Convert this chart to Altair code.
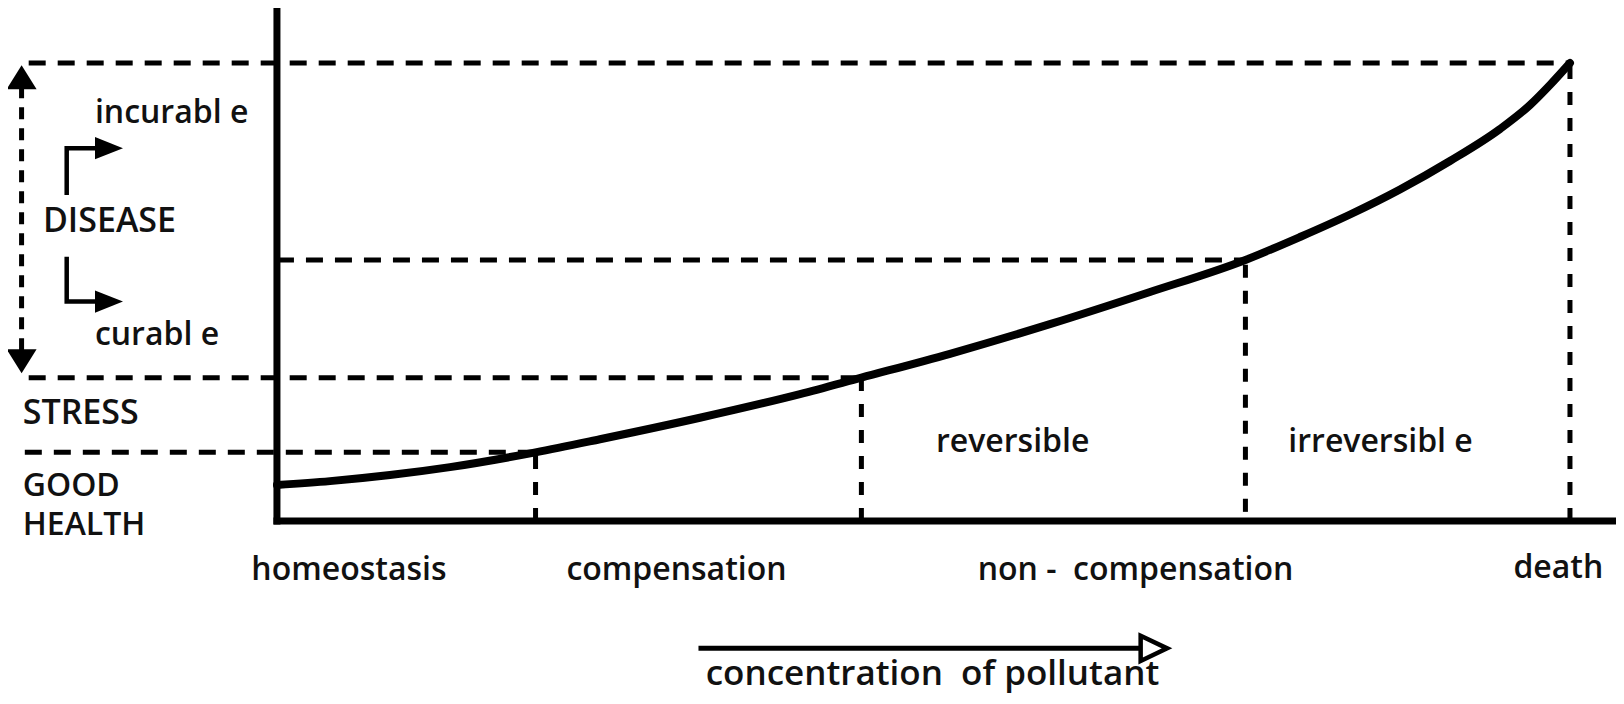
import altair as alt
import pandas as pd

# ---------------- data (concentration units: 0 = no pollutant, 100 = death;
#                  effect units: 0 = baseline, 100 = death) ----------------
curve_conc = [0, 4.10, 8.74, 13.38, 20.0, 24.98, 32.71, 40.45, 45.2, 52.05, 59.78,
              67.52, 74.9, 79.12, 82.99, 86.85, 90.72, 94.59, 96.91, 98.45, 100]
curve_effect = [7.86, 8.71, 10.04, 11.77, 15.0, 17.86, 22.55, 27.71, 31.3, 36.51, 42.97,
                50.0, 57.0, 62.01, 66.92, 72.38, 78.60, 85.59, 90.83, 95.20, 100]

# stage boundaries on the concentration axis and the matching effect levels
stage_ends = [20.0, 45.2, 74.9, 100.0]
level_tops = [15.0, 31.3, 57.0, 100.0]
level_line_start = [-19.5, -19.2, 0.0, -19.2]
stage_line_bottom = [0.0, 0.0, 2.0, 0.0]

# stage names under the axis
stage_labels = ["homeostasis", "compensation", "non -\u00a0 compensation", "death"]
stage_label_x = [5.57, 30.9, 66.4, 99.1]
stage_label_y = [-10.6, -10.6, -10.6, -10.2]

# non-compensation sub-stages
sub_labels = ["reversible", "irreversibl e"]
sub_label_x = [56.9, 85.35]
sub_label_y = [17.2, 17.2]

# health states on the left (lower case / capitals)
lower_labels = ["incurabl e", "curabl e"]
lower_label_x = [-14.08, -14.08]
lower_label_y = [89.1, 40.6]
caps_labels = ["DISEASE", "STRESS"]
caps_label_x = [-18.1, -19.66]
caps_label_y = [65.35, 23.3]
health_label = ["GOOD\nHEALTH"]
health_label_x = [-19.66]
health_label_y = [7.6]

# concentration arrow + title
conc_title = ["concentration \u00a0of pollutant"]
conc_title_x = [50.7]
conc_title_y = [-35.9]
conc_arrow_from = [32.6]
conc_arrow_to = [66.9]
conc_arrow_y = [-27.8]
conc_head_x = [67.82]

# disease range double arrow
disease_arrow_x = [-19.75]
disease_arrow_top = [94.8]
disease_arrow_bottom = [37.3]
disease_head_y = [96.9, 34.9]

# incurable / curable bracket arrows
bracket_id = ["up", "up", "up", "down", "down", "down"]
bracket_x = [-16.26, -16.26, -13.5, -16.26, -16.26, -13.5]
bracket_y = [71.2, 81.4, 81.4, 57.7, 47.9, 47.9]
bracket_head_x = [-12.99, -12.99]
bracket_head_y = [81.4, 47.9]

X_DOMAIN = [-20.80, 103.56]
Y_DOMAIN = [-38.2, 112.0]
FONT = "Open Sans"
FS = 32
FS_CAPS = 34
FS_TITLE = 35

# ---------------- encodings ----------------
xs = alt.Scale(domain=X_DOMAIN, nice=False, zero=False)
ys = alt.Scale(domain=Y_DOMAIN, nice=False, zero=False)


def X(f):
    return alt.X(f"{f}:Q", scale=xs, axis=None)


def Y(f):
    return alt.Y(f"{f}:Q", scale=ys, axis=None)


# curve
curve_df = pd.DataFrame({"x": curve_conc, "y": curve_effect})
curve = alt.Chart(curve_df).mark_line(color="black", strokeWidth=8, interpolate="monotone",
                                      strokeCap="round").encode(x=X("x"), y=Y("y"))

# axes
axes_df = pd.DataFrame({
    "x": [0.0, -0.27], "x2": [0.0, X_DOMAIN[1]],
    "y": [-0.76, 0.0], "y2": [Y_DOMAIN[1], 0.0],
})
axes = alt.Chart(axes_df).mark_rule(color="black", strokeWidth=7).encode(
    x=X("x"), x2="x2:Q", y=Y("y"), y2="y2:Q")

# horizontal dashed level lines
hdf = pd.DataFrame({"x": level_line_start, "x2": stage_ends, "y": level_tops})
hlines = alt.Chart(hdf).mark_rule(color="black", strokeWidth=5, strokeDash=[17, 12]).encode(
    x=X("x"), x2="x2:Q", y=Y("y"))

# vertical dashed stage lines
vdf = pd.DataFrame({"x": stage_ends, "y": stage_line_bottom, "y2": level_tops})
vlines = alt.Chart(vdf).mark_rule(color="black", strokeWidth=5, strokeDash=[13, 13]).encode(
    x=X("x"), y=Y("y"), y2="y2:Q")

# disease double arrow shaft
ddf = pd.DataFrame({"x": disease_arrow_x, "y": disease_arrow_bottom, "y2": disease_arrow_top})
dshaft = alt.Chart(ddf).mark_rule(color="black", strokeWidth=5, strokeDash=[12, 9]).encode(
    x=X("x"), y=Y("y"), y2="y2:Q")

# filled arrow heads
UP = "M0,-0.8L1,0.8L-1,0.8Z"
DOWN = "M0,0.8L1,-0.8L-1,-0.8Z"
RIGHT = "M-1,-0.8L1,0L-1,0.8Z"
heads_df = pd.DataFrame({
    "x": disease_arrow_x * 2 + bracket_head_x,
    "y": disease_head_y + bracket_head_y,
    "shape": [UP, DOWN, RIGHT, RIGHT],
    "size": [900, 900, 784, 784],
})
heads = alt.Chart(heads_df).mark_point(filled=True, color="black", opacity=1, strokeWidth=0).encode(
    x=X("x"), y=Y("y"),
    shape=alt.Shape("shape:N", scale=None),
    size=alt.Size("size:Q", scale=None))

# bracket lines
bdf = pd.DataFrame({"id": bracket_id, "x": bracket_x, "y": bracket_y, "o": list(range(len(bracket_x)))})
brackets = alt.Chart(bdf).mark_line(color="black", strokeWidth=4.5, strokeJoin="miter").encode(
    x=X("x"), y=Y("y"), detail="id:N", order="o:Q")

# concentration arrow
cdf = pd.DataFrame({"x": conc_arrow_from, "x2": conc_arrow_to, "y": conc_arrow_y})
cshaft = alt.Chart(cdf).mark_rule(color="black", strokeWidth=5).encode(
    x=X("x"), x2="x2:Q", y=Y("y"))
chead_df = pd.DataFrame({"x": conc_head_x, "y": conc_arrow_y})
chead = alt.Chart(chead_df).mark_point(
    shape="M-1,-0.95L1,0L-1,0.95Z", size=700, filled=True, fill="white", stroke="black",
    strokeWidth=4.5, opacity=1, strokeJoin="miter").encode(x=X("x"), y=Y("y"))

# texts
lower_df = pd.DataFrame({"x": lower_label_x, "y": lower_label_y, "t": lower_labels})
lower_text = alt.Chart(lower_df).mark_text(align="left", baseline="middle", font=FONT,
                                           fontSize=FS, fontWeight=600, color="#111").encode(
    x=X("x"), y=Y("y"), text="t:N")

caps_df = pd.DataFrame({"x": caps_label_x, "y": caps_label_y, "t": caps_labels})
caps_text = alt.Chart(caps_df).mark_text(align="left", baseline="middle", font=FONT,
                                         fontSize=FS_CAPS, fontWeight=600, color="#111").encode(
    x=X("x"), y=Y("y"), text="t:N")

health_df = pd.DataFrame({"x": health_label_x, "y": health_label_y, "t": health_label})
health_text = alt.Chart(health_df).mark_text(align="left", baseline="middle", font=FONT,
                                             fontSize=32, fontWeight=600, color="#111",
                                             lineBreak="\n", lineHeight=39).encode(
    x=X("x"), y=Y("y"), text="t:N")

center_df = pd.DataFrame({
    "x": stage_label_x + sub_label_x,
    "y": stage_label_y + sub_label_y,
    "t": stage_labels + sub_labels,
})
center_text = alt.Chart(center_df).mark_text(align="center", baseline="middle", font=FONT,
                                             fontSize=FS, fontWeight=600, color="#111").encode(
    x=X("x"), y=Y("y"), text="t:N")

title_df = pd.DataFrame({"x": conc_title_x, "y": conc_title_y, "t": conc_title})
title_text = alt.Chart(title_df).mark_text(align="center", baseline="alphabetic", font=FONT,
                                           fontSize=FS_TITLE, fontWeight=600, color="#111").encode(
    x=X("x"), y=Y("y"), text="t:N")

chart = alt.layer(
    hlines, vlines, dshaft, brackets, heads, cshaft, chead, axes, curve,
    lower_text, caps_text, health_text, center_text, title_text
).properties(
    width=1608, height=688,
    autosize=alt.AutoSizeParams(type="none"),
    padding=0, background="white",
).configure_view(stroke=None)

chart.save("out.html", embed_options={"renderer": "svg", "actions": False})
